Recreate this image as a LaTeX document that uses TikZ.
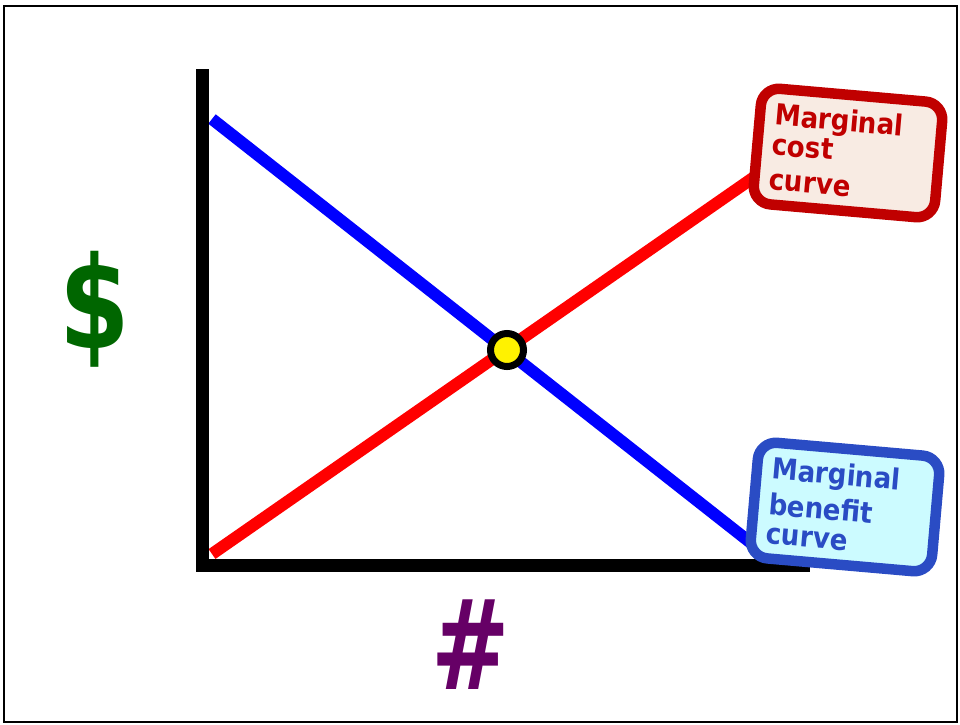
\documentclass[tikz,border=0pt]{standalone}
\usepackage{fontspec}
\setmainfont{DejaVu Sans}
\newfontfamily\condfont{DejaVu Sans Condensed}
\definecolor{mcred}{HTML}{C00000}
\definecolor{mcfill}{HTML}{F8EBE3}
\definecolor{mbblue}{HTML}{2A4CC4}
\definecolor{mbfill}{HTML}{CCFBFF}
\definecolor{dollar}{HTML}{006600}
\definecolor{hash}{HTML}{660066}
\begin{document}
\begin{tikzpicture}[x=1pt,y=-1pt,
  axisline/.style={line width=13pt},
  curveline/.style={line width=12pt},
  lab/.style={draw, line width=10.5pt, rounded corners=18pt, rotate=-5,
    minimum width=182pt, minimum height=116pt, text width=152pt,
    align=left, inner sep=0pt,
    font=\condfont\bfseries\fontsize{29}{32}\selectfont},
  bigsym/.style={inner sep=0pt}]
\useasboundingbox (0,0) rectangle (960,724);
\draw[line width=2pt] (4,6) rectangle (957,722);
% curves
\coordinate (b0) at (212,119);
\coordinate (b1) at (765,554);
\coordinate (r0) at (212,554);
\coordinate (r1) at (760,173);
\draw[curveline, blue] (b0) -- (b1);
\draw[curveline, red] (r0) -- (r1);
% axes
\coordinate (ytop) at (202.5,69);
\coordinate (ybot) at (202.5,571.5);
\coordinate (xleft) at (196,565);
\coordinate (xright) at (810,565);
\draw[axisline] (ytop) -- (ybot);
\draw[axisline] (xleft) -- (xright);
% equilibrium point
\node[circle, draw=black, line width=7pt, fill=yellow, minimum size=33pt, inner sep=0pt] (eq) at (507,350) {};
% labels
\node[lab, draw=mcred, fill=mcfill, text=mcred] (mc) at (848,153) {Marginal\\[-2pt]cost\\[3pt]curve};
\node[lab, draw=mbblue, fill=mbfill, text=mbblue] (mb) at (845,507) {Marginal\\[4pt]benefit\\[-3pt]curve};
\node[bigsym, text=dollar, xscale=0.88, font=\condfont\bfseries\fontsize{128}{128}\selectfont] (dl) at (95,309) {\$};
\node[bigsym, text=hash, xscale=0.75, font=\bfseries\fontsize{125}{125}\selectfont] (hs) at (471,645) {\#};
\end{tikzpicture}
\end{document}
